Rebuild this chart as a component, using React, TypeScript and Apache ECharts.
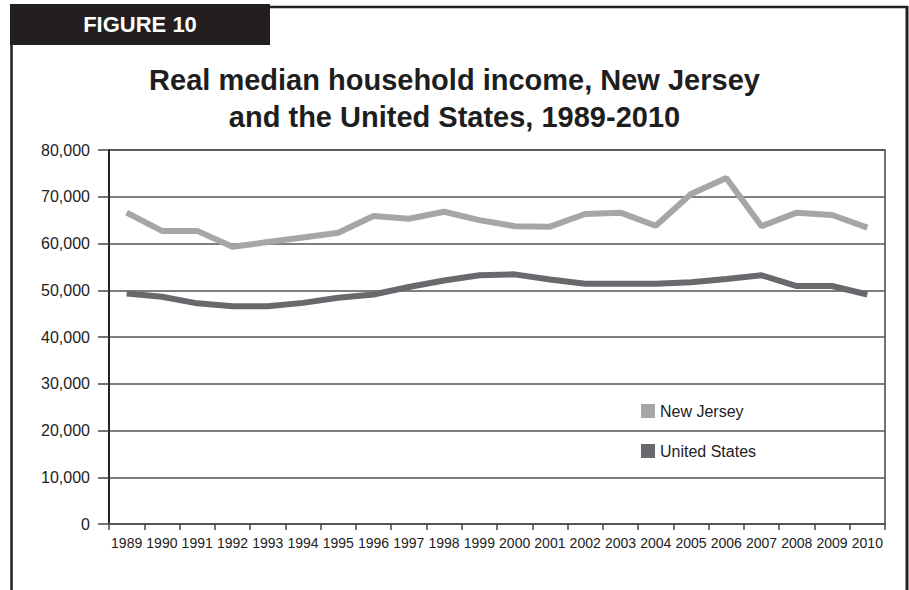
import React, { useEffect, useRef } from "react";
import * as echarts from "echarts";

const years = ["1989","1990","1991","1992","1993","1994","1995","1996","1997","1998","1999","2000","2001","2002","2003","2004","2005","2006","2007","2008","2009","2010"];
const newJersey = [66600, 62700, 62700, 59300, 60300, 61300, 62300, 65900, 65300, 66800, 65000, 63700, 63600, 66300, 66600, 63800, 70600, 74000, 63700, 66600, 66100, 63400];
const unitedStates = [49300, 48600, 47200, 46600, 46600, 47300, 48400, 49100, 50700, 52100, 53200, 53400, 52300, 51400, 51400, 51400, 51700, 52400, 53200, 50900, 50900, 49100];
const titleLines = ["Real median household income, New Jersey", "and the United States, 1989-2010"];
const figureLabel = "FIGURE 10";

const SANS = '"Liberation Sans", Arial, sans-serif';

export default function App() {
  const ref = useRef<HTMLDivElement>(null);
  useEffect(() => {
    if (!ref.current) return;
    const chart = echarts.init(ref.current, undefined, { renderer: "svg" });
    chart.setOption({
      animation: false,
      backgroundColor: "#ffffff",
      title: {
        text: titleLines.join("\n"),
        left: "center",
        top: 56,
        textStyle: { fontFamily: SANS, fontWeight: "bold", fontSize: 29, lineHeight: 37, color: "#1e1e1e" },
      },
      legend: {
        orient: "vertical",
        left: 641,
        top: 403,
        padding: 0,
        itemWidth: 14,
        itemHeight: 14,
        itemGap: 24,
        icon: "rect",
        textStyle: { fontFamily: SANS, fontSize: 16, color: "#222222" },
        data: ["New Jersey", "United States"],
      },
      grid: {
        left: 109,
        right: 24,
        top: 150,
        bottom: 66,
        show: true,
        borderColor: "#444444",
        borderWidth: 1.5,
      },
      xAxis: {
        type: "category",
        data: years,
        boundaryGap: true,
        axisLine: { lineStyle: { color: "#555555", width: 2 } },
        axisTick: { show: true, interval: 0, length: 6, lineStyle: { color: "#444444", width: 1.5 } },
        axisLabel: { interval: 0, fontFamily: SANS, fontSize: 14, color: "#222222", margin: 12 },
        splitLine: { show: false },
      },
      yAxis: {
        type: "value",
        min: 0,
        max: 80000,
        interval: 10000,
        axisLine: { show: true, lineStyle: { color: "#222222", width: 2 } },
        axisTick: { show: true, length: 11, lineStyle: { color: "#444444", width: 1.5 } },
        axisLabel: {
          fontFamily: SANS,
          fontSize: 16,
          color: "#222222",
          margin: 19,
          formatter: (v: number) => v.toLocaleString("en-US"),
        },
        splitLine: { show: true, lineStyle: { color: "#555555", width: 1.5 } },
      },
      series: [
        {
          name: "New Jersey",
          type: "line",
          data: newJersey,
          symbol: "none",
          color: "#a6a6a8",
          lineStyle: { color: "#a6a6a8", width: 6 },
          z: 3,
        },
        {
          name: "United States",
          type: "line",
          data: unitedStates,
          symbol: "none",
          color: "#69696d",
          lineStyle: { color: "#69696d", width: 6 },
          z: 3,
        },
      ],
      graphic: [
        { type: "line", shape: { x1: 269, y1: 7, x2: 908, y2: 7 }, style: { stroke: "#222222", lineWidth: 2.5 } },
        { type: "line", shape: { x1: 907, y1: 6, x2: 907, y2: 590 }, style: { stroke: "#222222", lineWidth: 3 } },
        { type: "line", shape: { x1: 11.5, y1: 44, x2: 11.5, y2: 590 }, style: { stroke: "#222222", lineWidth: 2.5 } },
        { type: "rect", shape: { x: 10, y: 4, width: 260, height: 41 }, style: { fill: "#231f20" } },
        {
          type: "text",
          x: 140,
          y: 24,
          style: {
            text: figureLabel,
            fill: "#ffffff",
            font: 'bold 22px "Liberation Sans", Arial, sans-serif',
            align: "center",
            verticalAlign: "middle",
          },
        },
      ],
    });
    return () => chart.dispose();
  }, []);
  return <div ref={ref} style={{ position: "absolute", left: 0, top: 0, width: 909, height: 590 }} />;
}
